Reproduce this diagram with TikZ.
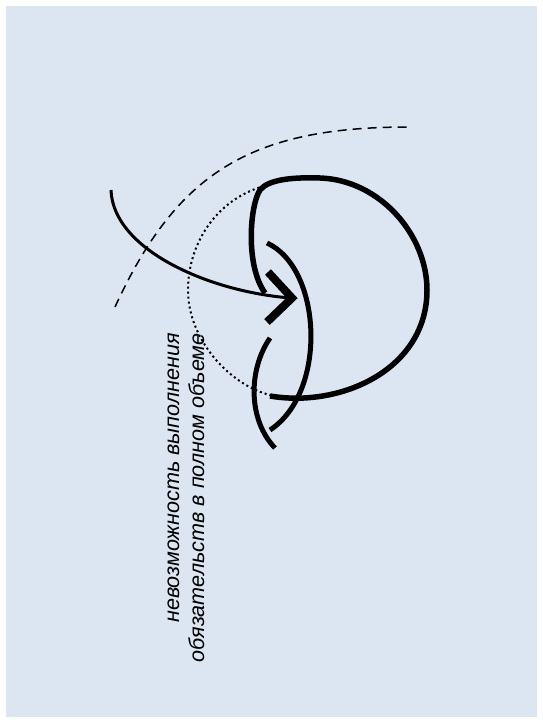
\documentclass[tikz,border=0pt]{standalone}
\usepackage{fontspec}
\setmainfont{Liberation Sans}
\definecolor{bgblue}{HTML}{DCE6F2}
\tikzset{
  thickcurve/.style={line width=5.5pt, line cap=butt},
  medcurve/.style={line width=5pt},
  arrowline/.style={line width=3pt},
  chevron/.style={line width=8pt, line join=miter, line cap=butt},
  dashcurve/.style={line width=1.5pt, dash pattern=on 9pt off 6pt},
  dotcurve/.style={line width=2pt, dash pattern=on 2pt off 3pt},
  labeltext/.style={rotate=90, anchor=east, align=right, inner sep=0pt,
    font=\fontsize{21.6}{25}\selectfont\itshape}
}
\begin{document}
\begin{tikzpicture}[x=1pt,y=-1pt]
\useasboundingbox (0,0) rectangle (542,723);
\fill[white] (0,0) rectangle (542,723);
\fill[bgblue] (6,6) rectangle (537,717);
% dashed arc
\draw[dashcurve] (115,307) .. controls (177,172) and (251,127) .. (409,127);
% dotted arc
\draw[dotcurve] (264,186) .. controls (215,200) and (188,245) .. (188,290)
  .. controls (188,340) and (230,385) .. (270,395);
% big loop
\draw[thickcurve] (270,396) .. controls (340,408) and (427,370) .. (427,290)
  .. controls (427,235) and (380,180) .. (320,178)
  .. controls (290,177) and (268,180) .. (260,190)
  .. controls (250,205) and (245,265) .. (265,293);
% arrow curve
\draw[arrowline] (111,190) .. controls (113,250) and (210,292) .. (291,298);
\coordinate (tipA) at (268,272);
\coordinate (tip) at (292,298);
\coordinate (tipB) at (267,322);
\draw[chevron] (tipA) -- (tip) -- (tipB);
% inner arc
\draw[medcurve] (267,243) .. controls (322,268) and (328,392) .. (270,430);
% lower-left arc
\draw[medcurve] (270,338) .. controls (248,370) and (248,420) .. (275,448);
% label
\node[labeltext] (label) at (186,333) {невозможность выполнения\\обязательств в полном объеме};
\end{tikzpicture}
\end{document}
